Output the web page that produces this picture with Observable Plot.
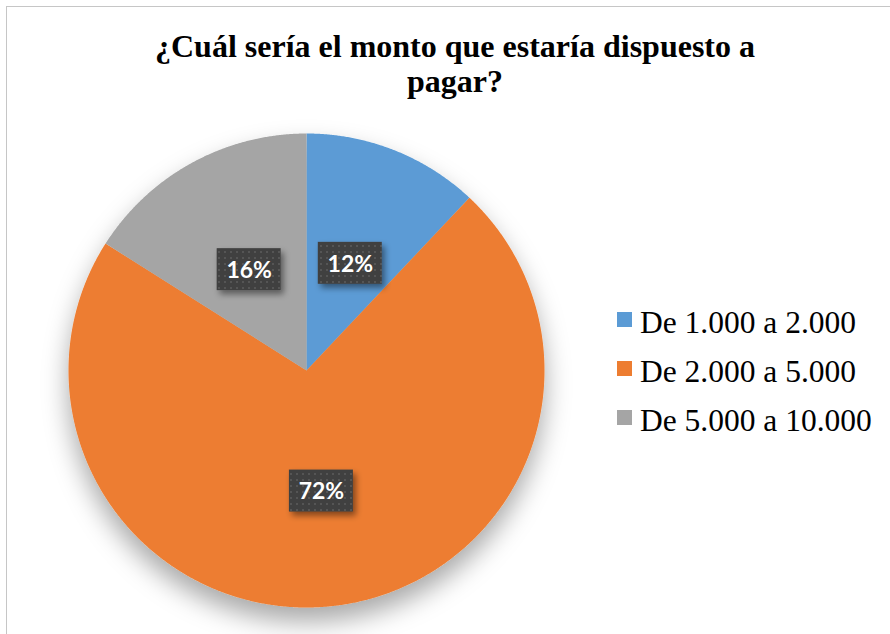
<!DOCTYPE html>
<html><head><meta charset="utf-8">
<script src="https://cdn.jsdelivr.net/npm/d3@7"></script>
<script src="https://cdn.jsdelivr.net/npm/@observablehq/plot@0.6"></script>
<style>
body{margin:0;background:#fff;}
#wrap{position:relative;width:890px;height:634px;overflow:hidden;background:#fff;}
#frame{position:absolute;left:6px;top:6px;width:920px;height:660px;border-left:1px solid #c6c6c6;border-top:1px solid #c6c6c6;box-sizing:border-box;}
#chart{position:absolute;left:0;top:0;}
#title{position:absolute;left:105px;width:700px;top:29px;text-align:center;font-family:"Times New Roman","Liberation Serif","DejaVu Serif",serif;font-weight:bold;font-size:32px;line-height:35px;color:#000;white-space:nowrap;}
#legend{position:absolute;left:617px;top:298px;font-family:"Times New Roman","Liberation Serif","DejaVu Serif",serif;font-size:31.5px;color:#000;}
.item{display:flex;align-items:center;height:49px;white-space:nowrap;}
.sw{width:15px;height:15px;margin-right:8px;flex:none;position:relative;top:-3px;}
</style></head>
<body>
<div id="wrap">
  <div id="frame"></div>
  <div id="chart"></div>
  <div id="title">¿Cuál sería el monto que estaría dispuesto a<br>pagar?</div>
  <div id="legend"></div>
</div>
<script>
const categories = ["De 1.000 a 2.000", "De 2.000 a 5.000", "De 5.000 a 10.000"];
const values = [12, 72, 16];
const labels = ["12%", "72%", "16%"];
const colors = ["#5B9BD5", "#ED7D31", "#A5A5A5"];

const pie = d3.pie().sort(null).value(d => d.value)(categories.map((c, i) => ({category: c, value: values[i], label: labels[i]})));

const slicePts = [];
for (const a of pie) {
  const n = Math.max(2, Math.ceil((a.endAngle - a.startAngle) / 0.005));
  slicePts.push({category: a.data.category, x: 0, y: 0});
  for (let k = 0; k <= n; k++) {
    const t = a.startAngle + (a.endAngle - a.startAngle) * k / n;
    slicePts.push({category: a.data.category, x: Math.sin(t), y: Math.cos(t)});
  }
  slicePts.push({category: a.data.category, x: 0, y: 0});
}
const labelPts = pie.map(a => {
  const m = (a.startAngle + a.endAngle) / 2;
  return {label: a.data.label, x: 0.5 * Math.sin(m), y: 0.5 * Math.cos(m)};
});

const plot = Plot.plot({
  width: 890, height: 634,
  margin: 0,
  x: {domain: [-1, 1], range: [68, 544], axis: null},
  y: {domain: [-1, 1], range: [607, 133], axis: null},
  color: {domain: categories, range: colors},
  style: {background: "transparent"},
  marks: [
    Plot.line(slicePts, {x: "x", y: "y", z: "category", fill: "category", stroke: null, curve: "linear"}),
    Plot.rect(labelPts, {x1: "x", x2: "x", y1: "y", y2: "y", insetLeft: -32, insetRight: -32, insetTop: -21, insetBottom: -21, dy: 3, fill: "#404040"}),
    Plot.text(labelPts, {x: "x", y: "y", text: "label", fill: "white", fontSize: 23, fontWeight: "bold", fontFamily: "Lato", dy: 4})
  ]
});
document.getElementById("chart").appendChild(plot);

const ns = "http://www.w3.org/2000/svg";
const defs = document.createElementNS(ns, "defs");
defs.innerHTML = `
<pattern id="dots" width="6" height="6" patternUnits="userSpaceOnUse">
  <rect width="6" height="6" fill="#404040"/>
  <rect x="2" y="2" width="2" height="2" fill="#555555"/>
</pattern>
<filter id="pieShadow" x="-30%" y="-30%" width="160%" height="170%">
  <feDropShadow dx="0" dy="14" stdDeviation="13" flood-color="#000" flood-opacity="0.34"/>
</filter>
<filter id="boxShadow" x="-30%" y="-30%" width="160%" height="170%">
  <feDropShadow dx="3" dy="4" stdDeviation="3" flood-color="#000" flood-opacity="0.45"/>
</filter>`;
plot.insertBefore(defs, plot.firstChild);
const lineG = plot.querySelector('g[aria-label="line"]');
if (lineG) lineG.setAttribute("filter", "url(#pieShadow)");
const rectG = plot.querySelector('g[aria-label="rect"]');
if (rectG) {
  rectG.setAttribute("filter", "url(#boxShadow)");
  rectG.querySelectorAll("rect").forEach(r => r.setAttribute("fill", "url(#dots)"));
  rectG.setAttribute("fill", "url(#dots)");
}

const legend = document.getElementById("legend");
categories.forEach((c, i) => {
  const it = document.createElement("div");
  it.className = "item";
  it.innerHTML = `<span class="sw" style="background:${colors[i]}"></span><span>${c}</span>`;
  legend.appendChild(it);
});
</script>
</body></html>
